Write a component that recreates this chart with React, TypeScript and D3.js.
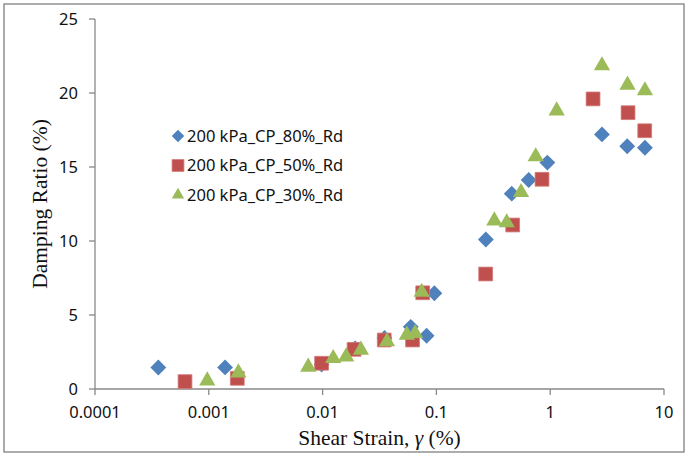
import { useMemo } from "react";
import * as d3 from "d3";

const WIDTH = 686;
const HEIGHT = 454;
const MARGIN = { top: 19, right: 22, bottom: 65, left: 95 };

// Shear strain (%) and damping ratio (%) for each test
const strain80 = [0.00036, 0.00139, 0.0098, 0.0193, 0.035, 0.0595, 0.082, 0.096, 0.272, 0.459, 0.647, 0.944, 2.85, 4.75, 6.8];
const damping80 = [1.45, 1.46, 1.65, 2.75, 3.45, 4.2, 3.6, 6.47, 10.1, 13.2, 14.12, 15.3, 17.2, 16.4, 16.3];

const strain50 = [0.000618, 0.00178, 0.0098, 0.0189, 0.0348, 0.0617, 0.0758, 0.271, 0.468, 0.847, 2.38, 4.83, 6.77];
const damping50 = [0.5, 0.72, 1.74, 2.68, 3.31, 3.31, 6.5, 7.77, 11.08, 14.17, 19.6, 18.67, 17.45];

const strain30 = [0.00097, 0.00182, 0.00748, 0.0124, 0.0161, 0.0217, 0.0368, 0.055, 0.065, 0.0743, 0.323, 0.415, 0.554, 0.746, 1.14, 2.85, 4.78, 6.8];
const damping30 = [0.56, 1.1, 1.49, 2.07, 2.18, 2.64, 3.2, 3.65, 3.76, 6.55, 11.37, 11.24, 13.29, 15.7, 18.8, 21.85, 20.54, 20.16];

const seriesNames = ["200 kPa_CP_80%_Rd", "200 kPa_CP_50%_Rd", "200 kPa_CP_30%_Rd"];
const xTicks = [0.0001, 0.001, 0.01, 0.1, 1, 10];
const xTickLabels = ["0.0001", "0.001", "0.01", "0.1", "1", "10"];
const yTicks = [0, 5, 10, 15, 20, 25];

const COLORS = ["#4F81BD", "#C0504D", "#9BBB59"];
const SYMBOLS = [d3.symbolDiamond2, d3.symbolSquare, d3.symbolTriangle2];
const POINT_SIZES = [160, 190, 190];
const LEGEND_SIZES = [100, 140, 110];

const TICK_FONT = "'Noto Sans', 'Open Sans', sans-serif";
const SERIF = "'Liberation Serif', 'Times New Roman', serif";
const AXIS_GREY = "#898989";

const Marker = ({ kind, x, y, size }: { kind: number; x: number; y: number; size: number }) => {
  const path = d3.symbol(SYMBOLS[kind], size)() as string;
  return (
    <path
      d={path}
      transform={`translate(${x},${y})`}
      fill={COLORS[kind]}
      stroke={kind === 1 ? "#D27775" : "none"}
      strokeWidth={kind === 1 ? 0.8 : 0}
    />
  );
};

export default function App() {
  const boundsWidth = WIDTH - MARGIN.left - MARGIN.right;
  const boundsHeight = HEIGHT - MARGIN.top - MARGIN.bottom;

  const xScale = useMemo(
    () => d3.scaleLog().domain([0.0001, 10]).range([0, boundsWidth]),
    [boundsWidth]
  );
  const yScale = useMemo(
    () => d3.scaleLinear().domain([0, 25]).range([boundsHeight, 0]),
    [boundsHeight]
  );

  const series = [
    { xs: strain80, ys: damping80 },
    { xs: strain50, ys: damping50 },
    { xs: strain30, ys: damping30 },
  ];

  return (
    <svg
      width={WIDTH}
      height={HEIGHT}
      style={{ position: "absolute", left: 0, top: 0, background: "#fff" }}
    >
      <rect x={4} y={4} width={680} height={448} fill="#fff" stroke={AXIS_GREY} strokeWidth={1.4} />

      <g transform={`translate(${MARGIN.left},${MARGIN.top})`}>
        {/* Y axis */}
        <line x1={0} x2={0} y1={0} y2={boundsHeight} stroke={AXIS_GREY} strokeWidth={1.3} />
        {yTicks.map((t) => (
          <g key={t} transform={`translate(0,${yScale(t)})`}>
            <line x1={-6} x2={0} stroke={AXIS_GREY} strokeWidth={1.3} />
            <text x={-17} dy="0.36em" textAnchor="end" fontFamily={TICK_FONT} fontSize={16.5} fill="#111">
              {t}
            </text>
          </g>
        ))}

        {/* X axis */}
        <line x1={0} x2={boundsWidth} y1={boundsHeight} y2={boundsHeight} stroke={AXIS_GREY} strokeWidth={1.3} />
        {xTicks.map((t, i) => (
          <g key={t} transform={`translate(${xScale(t)},${boundsHeight})`}>
            <line y1={0} y2={6} stroke={AXIS_GREY} strokeWidth={1.3} />
            <text y={29} textAnchor="middle" fontFamily={TICK_FONT} fontSize={16.5} fill="#111">
              {xTickLabels[i]}
            </text>
          </g>
        ))}

        {/* Points */}
        {series.map((s, k) => (
          <g key={k}>
            {s.xs.map((x, i) => (
              <Marker key={i} kind={k} x={xScale(x)} y={yScale(s.ys[i])} size={POINT_SIZES[k]} />
            ))}
          </g>
        ))}
      </g>

      {/* Legend */}
      {seriesNames.map((name, k) => (
        <g key={name} transform={`translate(178,${136 + k * 29.5})`}>
          <Marker kind={k} x={0} y={0} size={LEGEND_SIZES[k]} />
          <text x={9} dy="0.36em" fontFamily={TICK_FONT} fontSize={16.5} fill="#111">
            {name}
          </text>
        </g>
      ))}

      {/* Axis titles */}
      <text
        x={MARGIN.left + boundsWidth / 2}
        y={445}
        textAnchor="middle"
        fontFamily={SERIF}
        fontSize={21.5}
        fill="#111"
      >
        Shear Strain, <tspan fontStyle="italic">γ</tspan> (%)
      </text>
      <text
        transform={`translate(47,${MARGIN.top + boundsHeight / 2}) rotate(-90)`}
        textAnchor="middle"
        fontFamily={SERIF}
        fontSize={21.5}
        fill="#111"
      >
        Damping Ratio (%)
      </text>
    </svg>
  );
}
